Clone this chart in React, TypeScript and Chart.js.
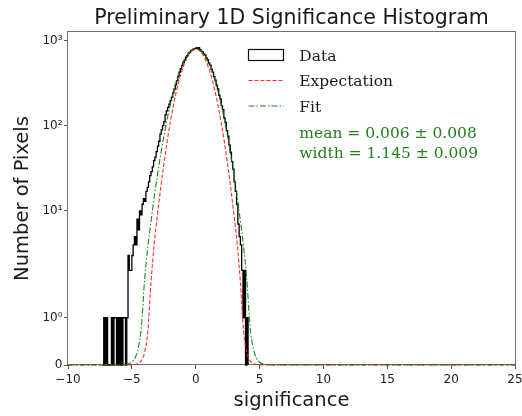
import React, { useEffect, useRef } from 'react';
import { Chart, registerables, LinearScale } from 'chart.js';

Chart.register(...registerables);

// ---------- data ----------
const titleText = 'Preliminary 1D Significance Histogram';
const xTitle = 'significance';
const yTitle = 'Number of Pixels';

const xTickLabels = ['\u221210', '\u22125', '0', '5', '10', '15', '20', '25'];
const yTickValues = [0, 1, 10, 100, 1000];
const yTickLabels = ['0', '10\u2070', '10\u00b9', '10\u00b2', '10\u00b3'];

// histogram: bins of width 0.1 starting at -7.3
const binStart = -7.3;
const binWidth = 0.1;
const counts = [
  0, 1, 0, 1, 0, 0, 0, 1, 0, 1,        // -7.3 .. -6.4
  1, 0, 1, 0, 1, 0, 1, 1, 0, 1,        // -6.3 .. -5.4
  3, 2, 2, 3, 4, 5, 4, 8, 6, 10,       // -5.3 .. -4.4
  9, 12, 14, 13, 17, 19, 22, 26, 29, 33, // -4.3 .. -3.4
  39, 43, 50, 58, 66, 80, 90, 101, 112, 135, // -3.3 .. -2.4
  150, 165, 180, 198, 218, 244, 270, 302, 340, 385, // -2.3 .. -1.4
  428, 470, 515, 560, 590, 641, 668, 712, 731, 770, // -1.3 .. -0.4
  779, 806, 812, 826, 818, 830, 792, 758, 741, 700, // -0.3 .. 0.6
  680, 628, 601, 548, 517, 462, 428, 379, 346, 301, // 0.7 .. 1.6
  272, 230, 208, 172, 155, 124, 110, 88, 76, 60,    // 1.7 .. 2.6
  49, 38, 31, 22, 17, 12, 7, 5, 4, 2,               // 2.7 .. 3.6
  1, 2, 0, 1                                         // 3.7 .. 4.0
];

const curveX = [
  -10, -6, -5.5, -5, -4.75, -4.5, -4.25, -4, -3.75, -3.5, -3.25, -3, -2.75, -2.5, -2.25, -2,
  -1.75, -1.5, -1.25, -1, -0.75, -0.5, -0.25, 0, 0.25, 0.5, 0.75, 1, 1.25, 1.5, 1.75, 2,
  2.25, 2.5, 2.75, 3, 3.25, 3.5, 3.75, 4, 4.25, 4.5, 4.75, 5, 5.5, 6, 25
];
const expectationY = [
  0, 0, 0, 0.003, 0.01, 0.032, 0.096, 0.27, 0.71, 1.75, 4.1, 8.9, 18.2, 35.1, 63.7, 108,
  173, 260, 366, 485, 604, 706, 775, 800, 775, 706, 604, 485, 366, 260, 173, 108,
  63.7, 35.1, 18.2, 8.9, 4.1, 1.75, 0.71, 0.27, 0.096, 0.032, 0.01, 0.003, 0, 0, 0
];
const fitY = [
  0, 0.001, 0.008, 0.059, 0.149, 0.359, 0.825, 1.81, 3.8, 7.58, 14.4, 26.2, 45.3, 74.7, 117.5, 176,
  252, 343, 446, 553, 654, 736, 791, 810, 791, 736, 654, 553, 446, 343, 252, 176,
  117.5, 74.7, 45.3, 26.2, 14.4, 7.58, 3.8, 1.81, 0.825, 0.359, 0.149, 0.059, 0.008, 0.001, 0
];

const legendLabels = ['Data', 'Expectation', 'Fit'];
const fitText = ['mean = 0.006 \u00b1 0.008', 'width = 1.145 \u00b1 0.009'];

const X_MIN = -10;
const X_MAX = 25;
const Y_MIN = 0;
const Y_MAX = 1270;

// ---------- symlog scale (linthresh 2, linscale 1, base 10) ----------
const LINTHRESH = 2;
const LINSCALE_ADJ = 1 / (1 - 1 / 10);
function fwd(v: number) {
  const a = Math.abs(v);
  if (a <= LINTHRESH) return (v / LINTHRESH) * LINSCALE_ADJ;
  return Math.sign(v) * (LINSCALE_ADJ + Math.log10(a / LINTHRESH));
}
function inv(t: number) {
  const a = Math.abs(t);
  if (a <= LINSCALE_ADJ) return (t / LINSCALE_ADJ) * LINTHRESH;
  return Math.sign(t) * LINTHRESH * Math.pow(10, a - LINSCALE_ADJ);
}

class SymLogScale extends LinearScale {
  static id = 'symlog';
  static defaults = {};
  determineDataLimits() {
    (this as any).min = (this as any).options.min;
    (this as any).max = (this as any).options.max;
  }
  buildTicks() {
    const self = this as any;
    return yTickValues.filter((v) => v >= self.min && v <= self.max).map((v) => ({ value: v }));
  }
  configure() {
    super.configure();
    const self = this as any;
    self._t0 = fwd(self.min);
    self._tr = fwd(self.max) - fwd(self.min);
  }
  getPixelForValue(v: any) {
    if (v === null || v === undefined || isNaN(v)) return NaN;
    const self = this as any;
    return self.getPixelForDecimal((fwd(v) - self._t0) / self._tr);
  }
  getValueForPixel(p: number) {
    const self = this as any;
    return inv(self._t0 + self.getDecimalForPixel(p) * self._tr);
  }
}
Chart.register(SymLogScale as any);

const RED = 'rgba(255,20,20,0.9)';
const GREEN = 'rgba(0,128,0,0.9)';
const RED_DASH = [4, 2];
const GREEN_DASH = [6, 2, 1.5, 2];

const framePlugin = {
  id: 'frame',
  beforeDatasetsDraw(chart: any) {
    const { ctx, chartArea } = chart;
    ctx.save();
    ctx.strokeStyle = '#707070';
    ctx.lineWidth = 1;
    ctx.setLineDash([]);
    ctx.strokeRect(
      Math.round(chartArea.left) - 0.5,
      Math.round(chartArea.top) - 0.5,
      Math.round(chartArea.right) - Math.round(chartArea.left) + 1,
      Math.round(chartArea.bottom) - Math.round(chartArea.top)
    );
    ctx.restore();
  },
};

const legendPlugin = {
  id: 'customLegend',
  afterDraw(chart: any) {
    const { ctx, chartArea } = chart;
    const L = chartArea.left;
    const T = chartArea.top;
    const hx0 = L + 180.5;
    const hx1 = L + 215.5;
    const tx = L + 231.3;
    ctx.save();
    // Data handle
    ctx.strokeStyle = '#111';
    ctx.lineWidth = 1.2;
    ctx.setLineDash([]);
    ctx.strokeRect(hx0, T + 17.5, 35, 11);
    ctx.lineWidth = 1.1;
    // Expectation handle
    ctx.strokeStyle = RED;
    ctx.setLineDash(RED_DASH);
    ctx.beginPath();
    ctx.moveTo(hx0, T + 48.5);
    ctx.lineTo(hx1, T + 48.5);
    ctx.stroke();
    // Fit handle
    ctx.strokeStyle = GREEN;
    ctx.setLineDash(GREEN_DASH);
    ctx.beginPath();
    ctx.moveTo(hx0, T + 74);
    ctx.lineTo(hx1, T + 74);
    ctx.stroke();
    ctx.setLineDash([]);
    ctx.font = '15.5px "DejaVu Serif"';
    ctx.textAlign = 'left';
    ctx.textBaseline = 'alphabetic';
    ctx.fillStyle = '#1a1a1a';
    ctx.fillText(legendLabels[0], tx, T + 28.7);
    ctx.fillText(legendLabels[1], tx, T + 54);
    ctx.fillText(legendLabels[2], tx, T + 79.7);
    ctx.fillStyle = '#1d7f1d';
    ctx.fillText(fitText[0], tx, T + 105.5);
    ctx.fillText(fitText[1], tx, T + 125.8);
    ctx.restore();
  },
};

export default function App() {
  const ref = useRef<HTMLCanvasElement>(null);
  useEffect(() => {
    const histPts: { x: number; y: number }[] = [];
    histPts.push({ x: binStart, y: 0 });
    counts.forEach((c, i) => histPts.push({ x: binStart + i * binWidth, y: c }));
    histPts.push({ x: binStart + counts.length * binWidth, y: 0 });
    const expPts = curveX.map((x, i) => ({ x, y: expectationY[i] }));
    const fitPts = curveX.map((x, i) => ({ x, y: fitY[i] }));

    const tickFont = { family: '"DejaVu Sans", sans-serif', size: 12 };
    const chart = new Chart(ref.current as HTMLCanvasElement, {
      type: 'line',
      data: {
        datasets: [
          {
            label: legendLabels[2],
            data: fitPts,
            borderColor: GREEN,
            borderWidth: 1.1,
            borderDash: GREEN_DASH,
            pointRadius: 0,
            fill: false,
            cubicInterpolationMode: 'monotone',
            clip: false,
            order: 1,
          },
          {
            label: legendLabels[1],
            data: expPts,
            borderColor: RED,
            borderWidth: 1.1,
            borderDash: RED_DASH,
            pointRadius: 0,
            fill: false,
            cubicInterpolationMode: 'monotone',
            clip: false,
            order: 2,
          },
          {
            label: legendLabels[0],
            data: histPts,
            borderColor: '#000',
            borderWidth: 1.3,
            pointRadius: 0,
            fill: false,
            stepped: 'before',
            clip: false,
            order: 3,
          },
        ],
      } as any,
      options: {
        animation: false,
        responsive: false,
        devicePixelRatio: 1,
        events: [],
        layout: { padding: { left: 0, right: 7, top: 0, bottom: 0 } },
        plugins: {
          legend: { display: false },
          tooltip: { enabled: false },
          title: {
            display: true,
            text: titleText,
            fullSize: false,
            color: '#1a1a1a',
            font: { family: '"DejaVu Sans", sans-serif', size: 20.5, weight: 'normal' },
            padding: { top: 6.6, bottom: 0.8 },
          },
        },
        scales: {
          x: {
            type: 'linear',
            min: X_MIN,
            max: X_MAX,
            ticks: {
              stepSize: 5,
              autoSkip: false,
              maxRotation: 0,
              padding: 3.5,
              color: '#222',
              font: tickFont,
              callback: (_v: any, i: number) => xTickLabels[i],
            },
            grid: {
              display: true,
              drawOnChartArea: false,
              drawTicks: true,
              tickLength: 4,
              color: '#555',
              tickColor: '#555',
              lineWidth: 1,
            },
            border: { display: false },
            title: {
              display: true,
              text: xTitle,
              color: '#1a1a1a',
              font: { family: '"DejaVu Sans", sans-serif', size: 19.5 },
              padding: { top: 0, bottom: 3 },
            },
            afterFit: (s: any) => {
              s.height = 51;
              s.paddingLeft = 0;
              s.paddingRight = 0;
            },
          },
          y: {
            type: 'symlog',
            min: Y_MIN,
            max: Y_MAX,
            ticks: {
              autoSkip: false,
              padding: 1.5,
              color: '#222',
              font: tickFont,
              callback: (_v: any, i: number) => yTickLabels[i],
            },
            grid: {
              display: true,
              drawOnChartArea: false,
              drawTicks: true,
              tickLength: 4,
              color: '#555',
              tickColor: '#555',
              lineWidth: 1,
            },
            border: { display: false },
            title: {
              display: true,
              text: yTitle,
              color: '#1a1a1a',
              font: { family: '"DejaVu Sans", sans-serif', size: 19.5 },
              padding: { top: 11.5, bottom: 0 },
            },
            afterFit: (s: any) => {
              s.width = 68;
              s.paddingTop = 0;
              s.paddingBottom = 0;
            },
          },
        } as any,
      },
      plugins: [framePlugin, legendPlugin],
    } as any);
    return () => chart.destroy();
  }, []);

  return (
    <div style={{ position: 'fixed', left: 0, top: 0, width: 522, height: 416, background: '#fff' }}>
      <canvas ref={ref} width={522} height={416} style={{ display: 'block', width: 522, height: 416 }} />
    </div>
  );
}
